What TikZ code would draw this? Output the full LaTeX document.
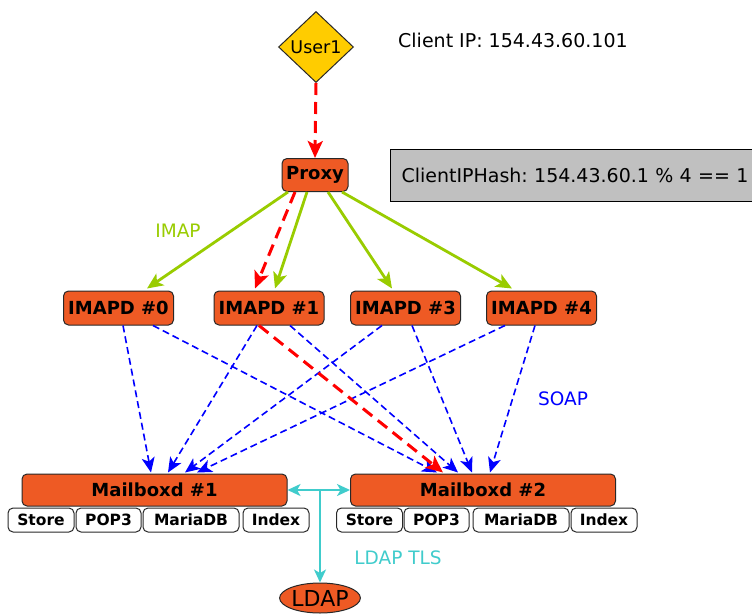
\documentclass[tikz,border=0pt]{standalone}
\usepackage{fontspec}
\setmainfont{DejaVu Sans}
\usetikzlibrary{shapes.geometric,arrows.meta,calc}
\frenchspacing
\definecolor{boxorange}{RGB}{238,90,36}
\definecolor{usergold}{RGB}{255,204,0}
\definecolor{imapgreen}{RGB}{153,204,0}
\definecolor{soapblue}{RGB}{0,0,255}
\definecolor{ldapcyan}{RGB}{64,204,204}
\definecolor{hashgray}{RGB}{192,192,192}
\definecolor{edgeblack}{RGB}{40,40,40}
\tikzset{
  svc/.style={draw=edgeblack, fill=boxorange, rounded corners=5pt, line width=1pt,
    font=\fontsize{18}{21}\selectfont\bfseries, inner sep=0pt},
  subbox/.style={draw=edgeblack, fill=white, rounded corners=5pt, line width=1pt,
    font=\fontsize{15.5}{18}\selectfont\bfseries, minimum height=24pt, inner sep=0pt},
  imapd/.style={svc, minimum width=110pt, minimum height=34pt},
  mailbox/.style={svc, minimum width=265pt, minimum height=32pt},
  greenarrow/.style={draw=imapgreen, line width=2.8pt, -{Stealth[length=16pt,width=14pt,inset=4pt]}},
  redarrow/.style={draw=red, line width=3pt, dash pattern=on 12pt off 7pt, -{Stealth[length=17pt,width=15pt,inset=4pt]}},
  bluearrow/.style={draw=soapblue, line width=1.6pt, dash pattern=on 7pt off 4pt, -{Stealth[length=15pt,width=13pt,inset=4pt]}},
  cyanline/.style={draw=ldapcyan, line width=2pt},
  cyantip/.tip={Stealth[length=13pt,width=12pt,inset=3.5pt]},
  lbl/.style={font=\fontsize{18.5}{21}\selectfont, inner sep=0pt},
}
\begin{document}
\begin{tikzpicture}[x=1pt,y=-1pt]
\useasboundingbox (0,0) rectangle (752,613);
\clip (0,0) rectangle (752,613);
\fill[white] (0,0) rectangle (752,613);

% nodes
\node[diamond, draw=edgeblack, fill=usergold, line width=1pt, minimum width=75pt, minimum height=71pt,
      inner sep=0pt, font=\fontsize{17.5}{20}\selectfont] (user) at (316,47) {User1};
\node[font=\fontsize{19}{22}\selectfont, inner sep=0pt, anchor=west] (cip) at (398,40) {Client IP: 154.43.60.101};
\node[svc, minimum width=66pt, minimum height=33pt] (proxy) at (315,175) {Proxy};
\node[draw=black, fill=hashgray, line width=1pt, anchor=west, text width=370pt, inner xsep=11pt,
      minimum height=52pt, align=left, font=\fontsize{19}{22}\selectfont] (hash) at (390,175)
      {ClientIPHash: 154.43.60.1 \% 4 == 1};

\node[imapd] (i0) at (118.5,308) {IMAPD \#0};
\node[imapd] (i1) at (269,308) {IMAPD \#1};
\node[imapd] (i3) at (405.5,308) {IMAPD \#3};
\node[imapd] (i4) at (541.5,308) {IMAPD \#4};

\node[mailbox] (mb1) at (154.5,490) {Mailboxd \#1};
\node[mailbox] (mb2) at (483,490) {Mailboxd \#2};

\node[subbox, minimum width=66pt] (s1) at (41,520) {Store};
\node[subbox, minimum width=65pt] (p1) at (108.5,520) {POP3};
\node[subbox, minimum width=96pt] (m1) at (191,520) {MariaDB};
\node[subbox, minimum width=66pt] (x1) at (276,520) {Index};
\node[subbox, minimum width=66pt] (s2) at (369.5,520) {Store};
\node[subbox, minimum width=65pt] (p2) at (436.5,520) {POP3};
\node[subbox, minimum width=96pt] (m2) at (521,520) {MariaDB};
\node[subbox, minimum width=66pt] (x2) at (604,520) {Index};

\node[ellipse, draw=edgeblack, fill=boxorange, line width=1pt, minimum width=66pt, minimum height=30pt,
      inner sep=0pt, font=\fontsize{22}{25}\selectfont] (ldap) at (320,598) {LDAP};

% labels
\node[lbl, text=imapgreen] (imaplbl) at (178,231) {IMAP};
\node[lbl, text=soapblue] (soaplbl) at (563,399) {SOAP};
\node[lbl, text=ldapcyan] (ldaplbl) at (398,558) {LDAP TLS};

% user -> proxy
\draw[redarrow] (user.south) -- (proxy.north);

% proxy -> imapd (green)
\draw[greenarrow] ($(proxy.south)+(-27,0)$) -- ($(i0.north)+(28.5,-2)$);
\draw[greenarrow] ($(proxy.south)+(-8,0)$) -- ($(i1.north)+(6,-2)$);
\draw[greenarrow] ($(proxy.south)+(13,0)$) -- ($(i3.north)+(-13.5,-2)$);
\draw[greenarrow] ($(proxy.south)+(27,0)$) -- ($(i4.north)+(-29.5,-2)$);
\draw[redarrow] ($(proxy.south)+(-20,0)$) -- ($(i1.north)+(-14,-2)$);

% imapd -> mailboxd (blue)
\draw[bluearrow] ($(i0.south)+(4.5,0)$) -- ($(mb1.north)+(-3.5,-1)$);
\draw[bluearrow] ($(i0.south)+(34.5,0)$) -- ($(mb2.north)+(-46,-1)$);
\draw[bluearrow] ($(i1.south)+(-12,0)$) -- ($(mb1.north)+(13.5,-1)$);
\draw[bluearrow] ($(i1.south)+(21,0)$) -- ($(mb2.north)+(-25,-1)$);
\draw[bluearrow] ($(i3.south)+(-23.5,0)$) -- ($(mb1.north)+(30.5,-1)$);
\draw[bluearrow] ($(i3.south)+(6.5,0)$) -- ($(mb2.north)+(-11,-1)$);
\draw[bluearrow] ($(i4.south)+(-36.5,0)$) -- ($(mb1.north)+(42.5,-1)$);
\draw[bluearrow] ($(i4.south)+(-6.5,0)$) -- ($(mb2.north)+(7,-1)$);
\draw[redarrow] ($(i1.south)+(-10,0)$) -- ($(mb2.north)+(-40,-1)$);

% LDAP links
\draw[cyanline, cyantip-cyantip] (mb1.east) -- (mb2.west);
\draw[cyanline, -cyantip] (ldap.north |- mb1.east) -- (ldap.north);
\end{tikzpicture}
\end{document}
